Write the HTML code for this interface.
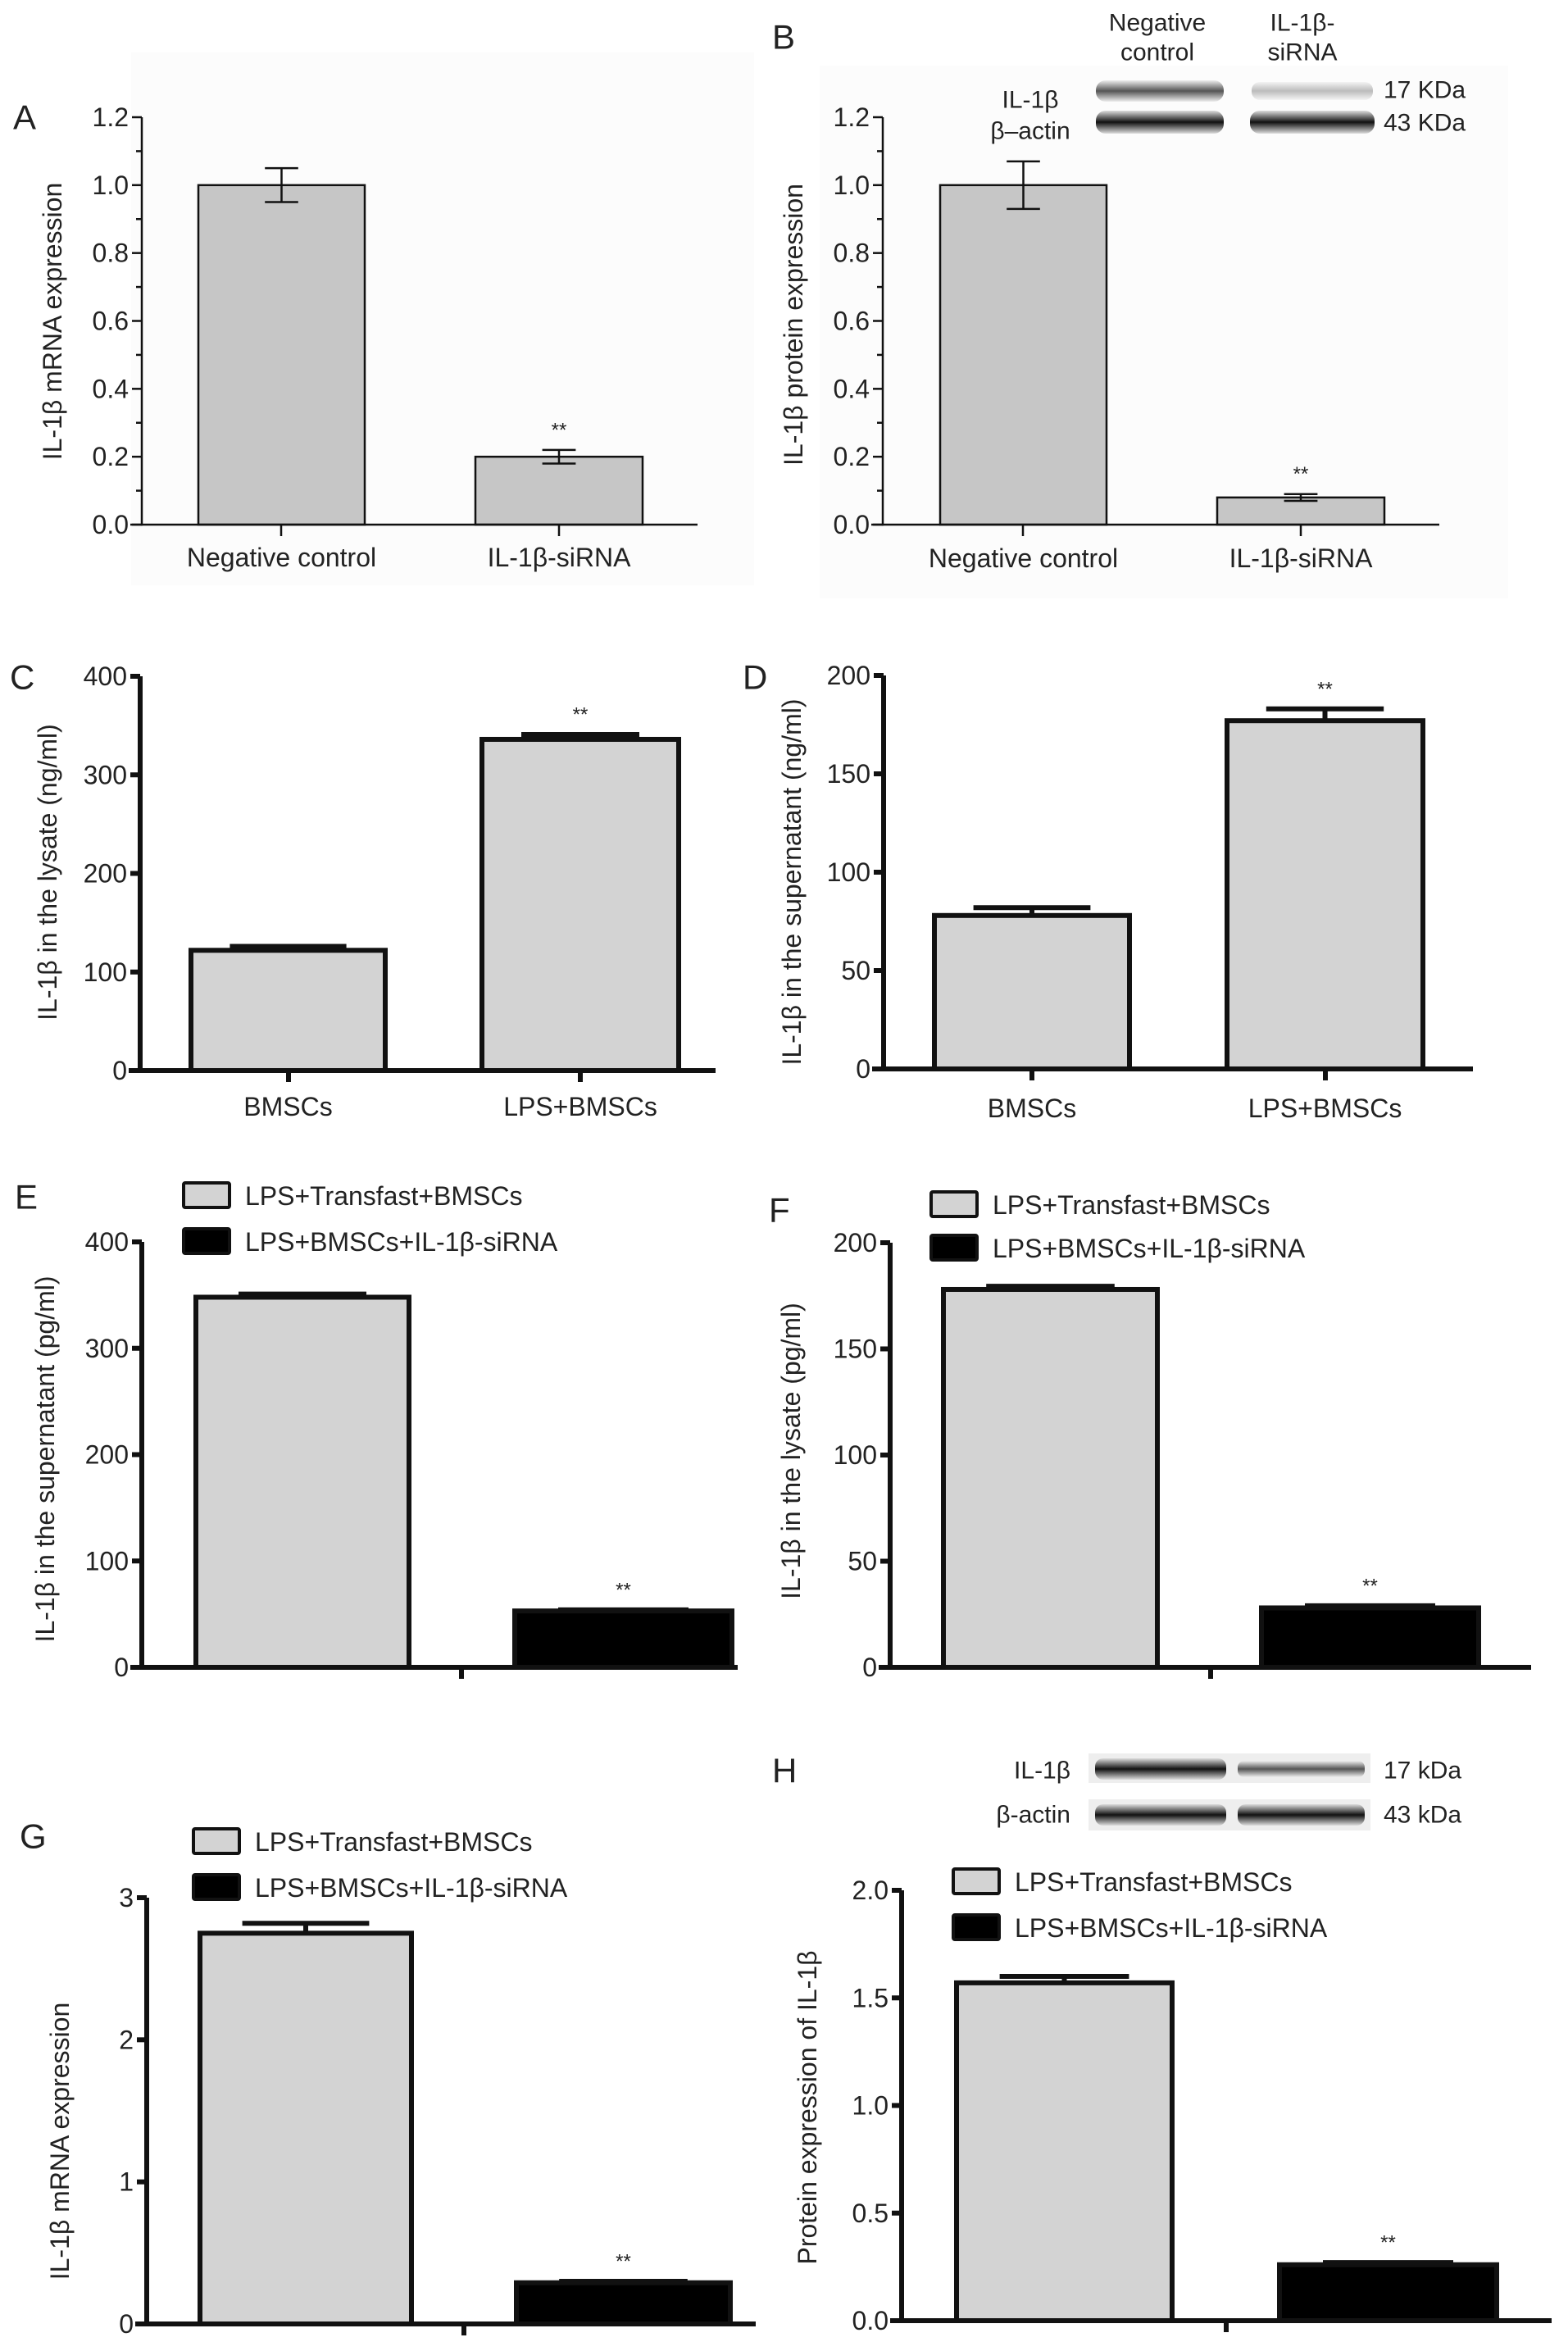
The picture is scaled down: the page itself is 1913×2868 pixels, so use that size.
<!DOCTYPE html>
<html><head><meta charset="utf-8"><style>
html,body{margin:0;padding:0;background:#fff;}
svg{display:block;font-family:"Liberation Sans",Arial,sans-serif;}
</style></head><body>
<svg id="fig" width="1913" height="2868" viewBox="0 0 1913 2868" xmlns="http://www.w3.org/2000/svg">
<defs>
<linearGradient id="blotA" x1="0" y1="0" x2="0" y2="1"><stop offset="0" stop-color="#eee"/><stop offset="0.5" stop-color="#555"/><stop offset="1" stop-color="#eee"/></linearGradient>
<linearGradient id="blotB" x1="0" y1="0" x2="0" y2="1"><stop offset="0" stop-color="#ddd"/><stop offset="0.5" stop-color="#111"/><stop offset="1" stop-color="#ddd"/></linearGradient>
<linearGradient id="blotC" x1="0" y1="0" x2="0" y2="1"><stop offset="0" stop-color="#f4f4f4"/><stop offset="0.5" stop-color="#bbb"/><stop offset="1" stop-color="#f4f4f4"/></linearGradient>
</defs>
</svg>
<script>
// Panel A
const catsA = ["Negative control", "IL-1β-siRNA"];
const valsA = [1.0, 0.2];
const errA = [0.05, 0.02];
const ticksA = ["0.0","0.2","0.4","0.6","0.8","1.0","1.2"];
// Panel B
const catsB = ["Negative control", "IL-1β-siRNA"];
const valsB = [1.0, 0.08];
const errB = [0.07, 0.01];
const ticksB = ["0.0","0.2","0.4","0.6","0.8","1.0","1.2"];
// Panel C
const catsC = ["BMSCs", "LPS+BMSCs"];
const valsC = [122, 336];
const errC = [4, 5];
const ticksC = ["0","100","200","300","400"];
// Panel D
const catsD = ["BMSCs", "LPS+BMSCs"];
const valsD = [78, 177];
const errD = [4, 6];
const ticksD = ["0","50","100","150","200"];
// Panels E-H (series)
const seriesNames = ["LPS+Transfast+BMSCs", "LPS+BMSCs+IL-1β-siRNA"];
const valsE = [348, 53];
const errE = [3, 1];
const ticksE = ["0","100","200","300","400"];
const valsF = [178, 28];
const errF = [1.5, 1];
const ticksF = ["0","50","100","150","200"];
const valsG = [2.75, 0.29];
const errG = [0.07, 0.01];
const ticksG = ["0","1","2","3"];
const valsH = [1.57, 0.26];
const errH = [0.03, 0.01];
const ticksH = ["0.0","0.5","1.0","1.5","2.0"];

const svg = document.getElementById('fig');
const NS = "http://www.w3.org/2000/svg";
function mk(tag, attrs, parent){
  const e = document.createElementNS(NS, tag);
  for (const k in attrs) e.setAttribute(k, attrs[k]);
  (parent||svg).appendChild(e);
  return e;
}
function txt(s, x, y, size, anchor, parent){
  const t = mk('text', {x:x, y:y, 'font-size':size, 'text-anchor':anchor||'middle', 'dominant-baseline':'central', fill:'#222'}, parent);
  t.textContent = s;
  return t;
}

function panel(cfg, vals, errs, ticks, cats){
  const g = mk('g', {});
  
  
  const lw = cfg.lw;
  const ymax = parseFloat(ticks[ticks.length-1]);
  const yS = v => cfg.y0 - (v / ymax) * (cfg.y0 - cfg.yTop);
  const letter = txt(cfg.letter, cfg.lx, cfg.ly, 42, 'start', g);
  
  
  vals.forEach((v, i) => {
    const b = cfg.bars[i];
    const r = mk('rect', {x:b[0], y:yS(v), width:b[1]-b[0], height:cfg.y0 - yS(v), fill:cfg.fills[i], stroke:'#111', 'stroke-width':lw}, g);
    
    
    const cx = (b[0]+b[1])/2, half = (b[1]-b[0]) * cfg.capFrac;
    const top = yS(v + errs[i]);
    const eg = mk('g', {stroke:'#111', 'stroke-width':lw}, g);
    
    
    if (cfg.twoSided){
      const bot = yS(v - errs[i]);
      mk('line', {x1:cx, x2:cx, y1:top, y2:bot}, eg);
      mk('line', {x1:cx-half, x2:cx+half, y1:bot, y2:bot}, eg);
    } else {
      mk('line', {x1:cx, x2:cx, y1:top, y2:yS(v)}, eg);
    }
    mk('line', {x1:cx-half, x2:cx+half, y1:top, y2:top}, eg);
    if (cfg.stars[i]){
      const st = txt('**', cx, top - 24, 24, 'middle', g);
      
      
    }
    if (cats){
      const cl = txt(cats[i], cx, cfg.catY, 32, 'middle', g);
      
      
    }
  });
  const ya = mk('line', {x1:cfg.ax, x2:cfg.ax, y1:cfg.yTop, y2:cfg.y0 + lw/2, stroke:'#111', 'stroke-width':lw}, g);
  
  
  const xa = mk('line', {x1:cfg.ax - 14, x2:cfg.xEnd, y1:cfg.y0, y2:cfg.y0, stroke:'#111', 'stroke-width':lw}, g);
  
  
  ticks.forEach(t => {
    const y = yS(parseFloat(t));
    mk('line', {x1:cfg.ax - 12, x2:cfg.ax, y1:y, y2:y, stroke:'#111', 'stroke-width':lw}, g);
    const tl = txt(t, cfg.ax - 16, y, 32, 'end', g);
    
    
  });
  if (cfg.minor){
    for (let k = 0; k < ticks.length - 1; k++){
      const y = yS((parseFloat(ticks[k]) + parseFloat(ticks[k+1])) / 2);
      mk('line', {x1:cfg.ax - 7, x2:cfg.ax, y1:y, y2:y, stroke:'#111', 'stroke-width':lw}, g);
    }
  }
  cfg.xTicks.forEach(x => mk('line', {x1:x, x2:x, y1:cfg.y0, y2:cfg.y0 + 14, stroke:'#111', 'stroke-width':lw}, g));
  const yl = txt(cfg.ylabel, 0, 0, 32, 'middle', g);
  yl.setAttribute('transform', 'translate(' + cfg.ylx + ',' + cfg.yly + ') rotate(-90)');
  
  
  if (cfg.legend){
    seriesNames.forEach((n, i) => {
      const L = cfg.legend[i];
      const lg = mk('g', {}, g);
      
      
      mk('rect', {x:L[0], y:L[1], width:56, height:30, fill:cfg.fills[i], stroke:'#111', 'stroke-width':4, rx:2}, lg);
      txt(n, L[0] + 75, L[1] + 16, 32, 'start', lg);
    });
  }
  return g;
}

const bgA = mk('rect', {x:160, y:64, width:760, height:650, fill:'#fcfcfc'});


const bgB = mk('rect', {x:1000, y:80, width:840, height:650, fill:'#fcfcfc'});



panel({id:'a', letter:'A', lx:16, ly:143, ax:173, yTop:143, y0:640, xEnd:851, lw:2.5,
  bars:[[242,445],[580,784]], fills:['#c6c6c6','#c6c6c6'], capFrac:0.1, twoSided:true, stars:[false,true],
  catY:680, minor:true, xTicks:[343,682], ylabel:'IL-1β mRNA expression', ylx:64, yly:392}, valsA, errA, ticksA, catsA);
panel({id:'b', letter:'B', lx:942, ly:45, ax:1077, yTop:143, y0:640, xEnd:1756, lw:2.5,
  bars:[[1147,1350],[1485,1689]], fills:['#c6c6c6','#c6c6c6'], capFrac:0.1, twoSided:true, stars:[false,true],
  catY:681, minor:true, xTicks:[1248,1587], ylabel:'IL-1β protein expression', ylx:968, yly:396}, valsB, errB, ticksB, catsB);
panel({id:'c', letter:'C', lx:12, ly:826, ax:171, yTop:825, y0:1306, xEnd:873, lw:6,
  bars:[[233,470],[588,828]], fills:['#d3d3d3','#d3d3d3'], capFrac:0.3, twoSided:false, stars:[false,true],
  catY:1350, minor:false, xTicks:[352,708], ylabel:'IL-1β in the lysate (ng/ml)', ylx:58, yly:1064}, valsC, errC, ticksC, catsC);
panel({id:'d', letter:'D', lx:906, ly:826, ax:1078, yTop:824, y0:1304, xEnd:1797, lw:6,
  bars:[[1140,1378],[1497,1736]], fills:['#d3d3d3','#d3d3d3'], capFrac:0.3, twoSided:false, stars:[false,true],
  catY:1352, minor:false, xTicks:[1259,1617], ylabel:'IL-1β in the supernatant (ng/ml)', ylx:966, yly:1076}, valsD, errD, ticksD, catsD);
panel({id:'e', letter:'E', lx:18, ly:1460, ax:173, yTop:1515, y0:2034, xEnd:900, lw:6,
  bars:[[239,499],[628,893]], fills:['#d3d3d3','#000'], capFrac:0.3, twoSided:false, stars:[false,true],
  minor:false, xTicks:[563], ylabel:'IL-1β in the supernatant (pg/ml)', ylx:55, yly:1780,
  legend:[[224,1443],[224,1499]]}, valsE, errE, ticksE, null);
panel({id:'f', letter:'F', lx:938, ly:1476, ax:1086, yTop:1516, y0:2034, xEnd:1868, lw:6,
  bars:[[1151,1412],[1539,1804]], fills:['#d3d3d3','#000'], capFrac:0.3, twoSided:false, stars:[false,true],
  minor:false, xTicks:[1477], ylabel:'IL-1β in the lysate (pg/ml)', ylx:965, yly:1770,
  legend:[[1136,1454],[1136,1507]]}, valsF, errF, ticksF, null);
panel({id:'g', letter:'G', lx:24, ly:2240, ax:179, yTop:2315, y0:2835, xEnd:922, lw:6,
  bars:[[244,502],[630,891]], fills:['#d3d3d3','#000'], capFrac:0.3, twoSided:false, stars:[false,true],
  minor:false, xTicks:[566], ylabel:'IL-1β mRNA expression', ylx:73, yly:2612,
  legend:[[236,2231],[236,2287]]}, valsG, errG, ticksG, null);
panel({id:'h', letter:'H', lx:942, ly:2160, ax:1100, yTop:2306, y0:2831, xEnd:1893, lw:6,
  bars:[[1167,1430],[1561,1826]], fills:['#d3d3d3','#000'], capFrac:0.3, twoSided:false, stars:[false,true],
  minor:false, xTicks:[1496], ylabel:'Protein expression of IL-1β', ylx:985, yly:2571,
  legend:[[1163,2280],[1163,2336]]}, valsH, errH, ticksH, null);

const wb = mk('g', {});


mk('rect', {x:1337, y:98, width:156, height:26, rx:12, fill:'url(#blotA)'}, wb);
mk('rect', {x:1527, y:100, width:148, height:22, rx:10, fill:'url(#blotC)'}, wb);
mk('rect', {x:1337, y:135, width:156, height:28, rx:12, fill:'url(#blotB)'}, wb);
mk('rect', {x:1525, y:135, width:152, height:28, rx:12, fill:'url(#blotB)'}, wb);
txt('Negative', 1412, 28, 30, 'middle', wb);
txt('control', 1412, 64, 30, 'middle', wb);
txt('IL-1β-', 1589, 28, 30, 'middle', wb);
txt('siRNA', 1589, 64, 30, 'middle', wb);
txt('17 KDa', 1688, 110, 30, 'start', wb);
txt('43 KDa', 1688, 150, 30, 'start', wb);
txt('IL-1β', 1257, 122, 30, 'middle', wb);
txt('β–actin', 1257, 160, 30, 'middle', wb);

const wh = mk('g', {});


mk('rect', {x:1328, y:2139, width:344, height:36, fill:'#eeeeee'}, wh);
mk('rect', {x:1328, y:2195, width:344, height:38, fill:'#eeeeee'}, wh);
mk('rect', {x:1336, y:2145, width:160, height:26, rx:10, fill:'url(#blotB)'}, wh);
mk('rect', {x:1510, y:2148, width:155, height:20, rx:8, fill:'url(#blotA)'}, wh);
mk('rect', {x:1336, y:2201, width:160, height:26, rx:10, fill:'url(#blotB)'}, wh);
mk('rect', {x:1510, y:2201, width:155, height:26, rx:10, fill:'url(#blotB)'}, wh);
txt('IL-1β', 1306, 2160, 30, 'end', wh);
txt('β-actin', 1306, 2214, 30, 'end', wh);
txt('17 kDa', 1688, 2160, 30, 'start', wh);
txt('43 kDa', 1688, 2214, 30, 'start', wh);
</script>
</body></html>
